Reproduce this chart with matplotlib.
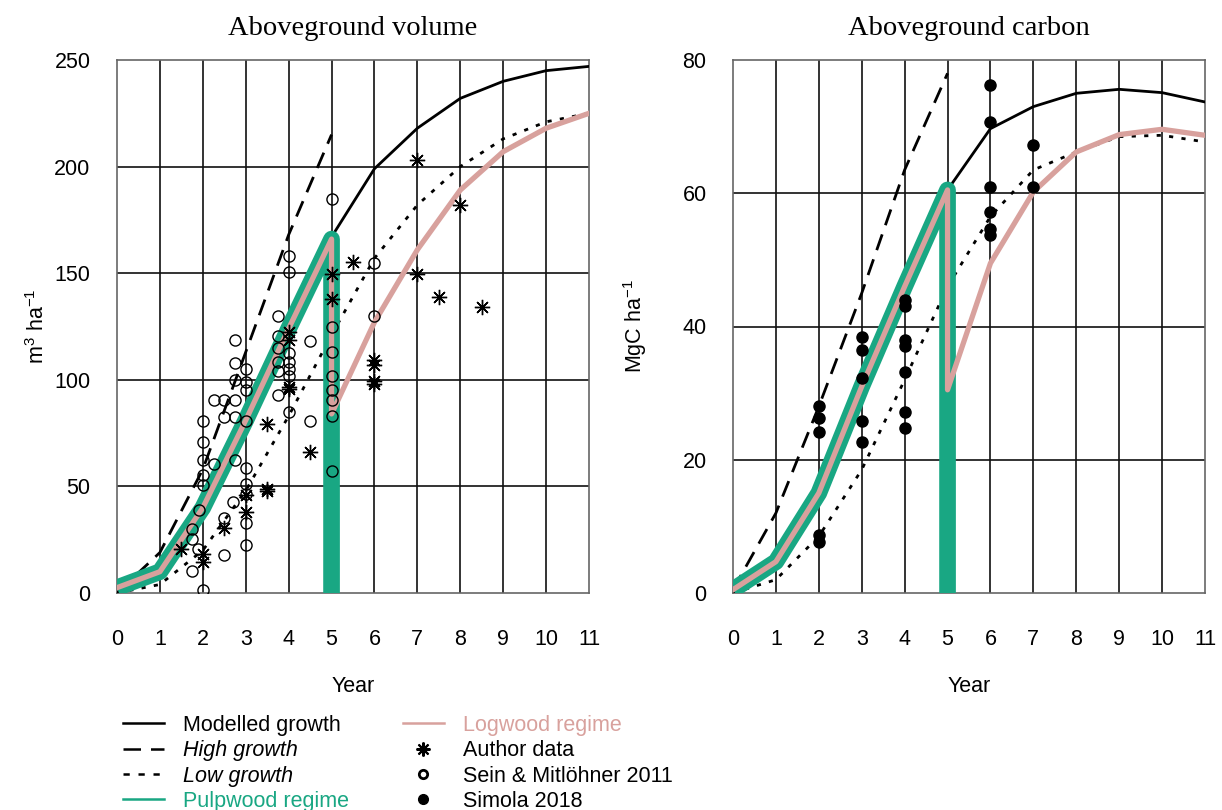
import numpy as np
import matplotlib
matplotlib.use('Agg')
import matplotlib.pyplot as plt
from matplotlib.lines import Line2D

plt.rcParams['font.family'] = ['Liberation Sans', 'DejaVu Sans']
plt.rcParams['mathtext.default'] = 'regular'

GREEN = '#19a783'
PINK = '#d8a19d'

years = np.arange(0, 12)
years_early = np.arange(0, 6)

# 体积 (m3/ha)
vol_modelled = [2.5, 10, 40, 81, 124, 167, 199, 218, 232, 240, 245, 247]
vol_high = [0, 19, 58, 113, 168, 215]
vol_low = [0, 4, 20, 48, 83, 121, 157, 182, 200, 213, 221, 225]
vol_pulp_x = [0, 1, 2, 3, 4, 5, 5]
vol_pulp_y = [2.5, 10, 40, 81, 124, 166, 0]
vol_log_x = [0, 1, 2, 3, 4, 5, 5, 6, 7, 8, 9, 10, 11]
vol_log_y = [2.5, 10, 40, 81, 124, 166, 84, 127, 161, 189, 207, 218, 225]

# Author data
author_x = [1.5, 2.0, 2.0, 2.5, 3.0, 3.0, 3.5, 3.5, 3.5, 4.0, 4.0, 4.0, 4.0,
            4.5, 5.0, 5.0, 5.5, 6.0, 6.0, 6.0, 6.0, 7.0, 7.0, 7.5, 8.0, 8.5]
author_y = [20.5, 18.5, 14.5, 30.5, 46, 38, 79.3, 48.8, 47.8, 122.6, 118.7, 96.8, 95.5,
            66.3, 149.6, 137.8, 155.4, 109.3, 107, 99.6, 98, 203, 149.5, 138.7, 182, 134]

# Sein & Mitlöhner 2011
sein_x = [1.75, 1.75, 1.75, 1.88, 1.9,
          2.0, 2.0, 2.0, 2.0, 2.0, 2.0,
          2.25, 2.25,
          2.5, 2.5, 2.5, 2.5,
          2.75, 2.75, 2.75, 2.75, 2.75, 2.75, 2.7,
          3.0, 3.0, 3.0, 3.0, 3.0, 3.0, 3.0, 3.0, 3.0,
          3.75, 3.75, 3.75, 3.75, 3.75, 3.75,
          4.0, 4.0, 4.0, 4.0, 4.0, 4.0, 4.0,
          4.5, 4.5,
          5.0, 5.0, 5.0, 5.0, 5.0, 5.0, 5.0, 5.0,
          6.0, 6.0]
sein_y = [30, 25.5, 10.5, 20.5, 39,
          80.5, 71, 62.5, 55.5, 50.5, 1.5,
          90.5, 60.5,
          90.5, 82.5, 35, 18,
          118.5, 108, 100, 90.5, 82.5, 62.5, 42.5,
          105, 99, 95, 80.5, 58.5, 51, 46.5, 33, 22.5,
          130, 120.5, 115, 108.5, 104, 93,
          158, 150.5, 112.5, 108.5, 105, 102, 85,
          118, 80.5,
          185, 125, 113, 102, 95, 90.5, 83, 57,
          155, 130]

# 碳 (MgC/ha)
c_modelled = [0.5, 4.7, 15, 31, 46, 60.5, 69.7, 73, 75, 75.6, 75.1, 73.7]
c_high = [0.5, 12, 28, 45, 63.5, 78]
c_low = [0, 2, 8.5, 18.5, 32, 46, 56.5, 63.5, 66.2, 68.5, 68.7, 67.7]
c_pulp_x = [0, 1, 2, 3, 4, 5, 5]
c_pulp_y = [0.5, 4.7, 15, 31, 46, 60.5, 0]
c_log_x = [0, 1, 2, 3, 4, 5, 5, 6, 7, 8, 9, 10, 11]
c_log_y = [0.5, 4.7, 15, 31, 46, 60.5, 30.5, 49.5, 60.2, 66.2, 68.8, 69.6, 68.7]

# Simola 2018
simola_x = [2, 2, 2, 2, 2, 3, 3, 3, 3, 3, 4, 4, 4, 4, 4, 4, 4,
            6, 6, 6, 6, 6, 6, 7, 7]
simola_y = [28, 26.2, 24.1, 8.7, 7.6, 38.4, 36.5, 32.2, 25.8, 22.6,
            44, 43.1, 38, 37, 33.2, 27.2, 24.7,
            76.2, 70.7, 61, 57.2, 54.7, 53.7, 67.3, 61]

fs = 15.5
fig = plt.figure(figsize=(12.22, 8.10), dpi=100)
ax1 = fig.add_axes([117 / 1222, 1 - 593 / 810, 472 / 1222, 533 / 810])
ax2 = fig.add_axes([733 / 1222, 1 - 593 / 810, 472 / 1222, 533 / 810])


def setup(ax, ymax, ystep, title, ylabel, ylab_x):
    ax.set_xlim(0, 11)
    ax.set_ylim(0, ymax)
    ax.set_xticks(range(0, 12))
    ax.set_yticks(np.arange(0, ymax + 1, ystep))
    for v in range(1, 11):
        ax.axvline(v, color='#111111', lw=1.2, zorder=1)
    for v in np.arange(ystep, ymax, ystep):
        ax.axhline(v, color='#111111', lw=1.2, zorder=1)
    for s in ax.spines.values():
        s.set_color('#666666')
        s.set_linewidth(1.2)
    ax.tick_params(length=0, labelsize=fs)
    ax.tick_params(axis='x', pad=26)
    ax.tick_params(axis='y', pad=19)
    ax.set_title(title, family='Liberation Serif', fontsize=20.5, pad=18)
    ax.set_xlabel('Year', fontsize=fs)
    ax.xaxis.set_label_coords(0.5, -0.155)
    ax.set_ylabel(ylabel, fontsize=fs)
    ax.yaxis.set_label_coords(ylab_x, 0.5)


setup(ax1, 250, 50, 'Aboveground volume', r'm$^{3}$ ha$^{-1}$', -0.145)
setup(ax2, 80, 20, 'Aboveground carbon', r'MgC ha$^{-1}$', -0.178)

for ax, mod, high, low, px, py, lx, ly in [
        (ax1, vol_modelled, vol_high, vol_low, vol_pulp_x, vol_pulp_y, vol_log_x, vol_log_y),
        (ax2, c_modelled, c_high, c_low, c_pulp_x, c_pulp_y, c_log_x, c_log_y)]:
    ax.plot(years, mod, color='black', lw=2, zorder=3)
    ax.plot(years_early, high, color='black', lw=2, ls=(0, (6, 3.5)), zorder=3)
    ax.plot(years, low, color='black', lw=2, ls=(0, (1.5, 3)), zorder=3)
    ax.plot(px, py, color=GREEN, lw=12, solid_joinstyle='round', solid_capstyle='butt', zorder=4)
    ax.plot(lx, ly, color=PINK, lw=3.8, solid_joinstyle='round', zorder=5)

ax1.plot(sein_x, sein_y, 'o', mfc='none', mec='black', ms=8, mew=1, zorder=6)
ax1.plot(author_x, author_y, ls='none', marker=(8, 2, 0), color='black', ms=11, mew=1, zorder=6)
ax2.plot(simola_x, simola_y, 'o', color='black', ms=8, zorder=6)

handles = [
    Line2D([], [], color='black', lw=1.8),
    Line2D([], [], color='black', lw=1.8, ls=(0, (7, 4))),
    Line2D([], [], color='black', lw=1.8, ls=(0, (2.5, 3.5))),
    Line2D([], [], color=GREEN, lw=1.8),
    Line2D([], [], color=PINK, lw=1.8),
    Line2D([], [], ls='none', marker=(8, 2, 0), color='black', ms=10, mew=1.5),
    Line2D([], [], ls='none', marker='o', mfc='none', mec='black', ms=6, mew=2),
    Line2D([], [], ls='none', marker='o', color='black', ms=7),
]
labels = ['Modelled growth', 'High growth', 'Low growth', 'Pulpwood regime',
          'Logwood regime', 'Author data', 'Sein & Mitlöhner 2011', 'Simola 2018']
leg = fig.legend(handles, labels, ncol=2, loc='upper left',
                 bbox_to_anchor=(122.7 / 1222, 1 - 715 / 810), frameon=False,
                 fontsize=fs, borderpad=0, borderaxespad=0, handlelength=1.9,
                 handletextpad=0.9, columnspacing=2.5, labelspacing=0.2)
txts = leg.get_texts()
txts[1].set_style('italic')
txts[2].set_style('italic')
txts[3].set_color(GREEN)
txts[4].set_color(PINK)

fig.savefig('out.png', dpi=100)
